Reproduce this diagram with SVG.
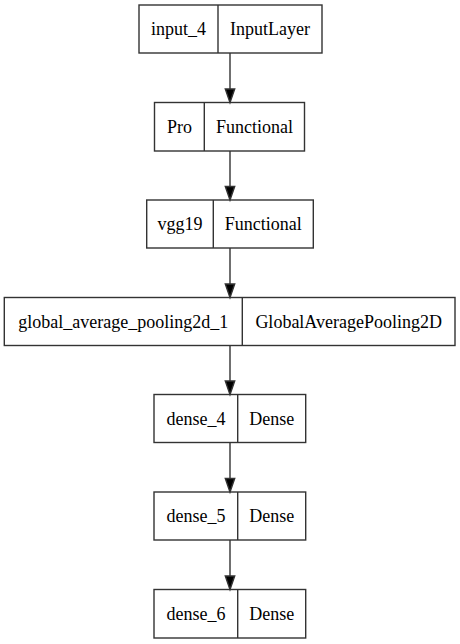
<svg xmlns="http://www.w3.org/2000/svg" width="460" height="644" viewBox="0 0 460 644">
<defs>
<style>
.box{fill:none;stroke:#333;stroke-width:1.4}
.edge{stroke:#333;stroke-width:1.4;fill:none}
.head{fill:#000;stroke:#333;stroke-width:1.4}
.t{font-family:'Liberation Serif','Times New Roman',Tinos,'DejaVu Serif',serif;font-size:18px;fill:#000;text-anchor:middle}
</style>
</defs>
<rect width="460" height="644" fill="#fff"/>
<g id="connectors">
<line class="edge" x1="230" y1="53" x2="230" y2="89"/><polygon class="head" points="225.3,89 234.7,89 230,102.5"/>
<line class="edge" x1="230" y1="151" x2="230" y2="186.5"/><polygon class="head" points="225.3,186.5 234.7,186.5 230,200"/>
<line class="edge" x1="230" y1="248" x2="230" y2="284"/><polygon class="head" points="225.3,284 234.7,284 230,297.5"/>
<line class="edge" x1="230" y1="345.5" x2="230" y2="381"/><polygon class="head" points="225.3,381 234.7,381 230,394.5"/>
<line class="edge" x1="230" y1="442.5" x2="230" y2="478.5"/><polygon class="head" points="225.3,478.5 234.7,478.5 230,492"/>
<line class="edge" x1="230" y1="540" x2="230" y2="576"/><polygon class="head" points="225.3,576 234.7,576 230,589.5"/>
</g>
<g id="input_4">
<rect class="box" x="139" y="5" width="183" height="48"/><line class="box" x1="218" y1="5" x2="218" y2="53"/>
<text class="t" x="178.5" y="35">input_4</text><text class="t" x="270" y="35">InputLayer</text>
</g>
<g id="Pro">
<rect class="box" x="154.5" y="102.5" width="150" height="48.5"/><line class="box" x1="204.3" y1="102.5" x2="204.3" y2="151"/>
<text class="t" x="179.4" y="133">Pro</text><text class="t" x="254.4" y="133">Functional</text>
</g>
<g id="vgg19">
<rect class="box" x="146.7" y="200" width="166.6" height="48"/><line class="box" x1="213.3" y1="200" x2="213.3" y2="248"/>
<text class="t" x="180" y="230">vgg19</text><text class="t" x="263.3" y="230">Functional</text>
</g>
<g id="global_average_pooling2d_1">
<rect class="box" x="4.3" y="297.5" width="450.7" height="48"/><line class="box" x1="242.3" y1="297.5" x2="242.3" y2="345.5"/>
<text class="t" x="123.3" y="327.5">global_average_pooling2d_1</text><text class="t" x="348.7" y="327.5">GlobalAveragePooling2D</text>
</g>
<g id="dense_4">
<rect class="box" x="154" y="394.5" width="151.7" height="48"/><line class="box" x1="237.7" y1="394.5" x2="237.7" y2="442.5"/>
<text class="t" x="195.9" y="424.5">dense_4</text><text class="t" x="271.7" y="424.5">Dense</text>
</g>
<g id="dense_5">
<rect class="box" x="154" y="492" width="151.7" height="48"/><line class="box" x1="237.7" y1="492" x2="237.7" y2="540"/>
<text class="t" x="195.9" y="522">dense_5</text><text class="t" x="271.7" y="522">Dense</text>
</g>
<g id="dense_6">
<rect class="box" x="154" y="589.5" width="151.7" height="48.5"/><line class="box" x1="237.7" y1="589.5" x2="237.7" y2="638"/>
<text class="t" x="195.9" y="619.5">dense_6</text><text class="t" x="271.7" y="619.5">Dense</text>
</g>
</svg>
